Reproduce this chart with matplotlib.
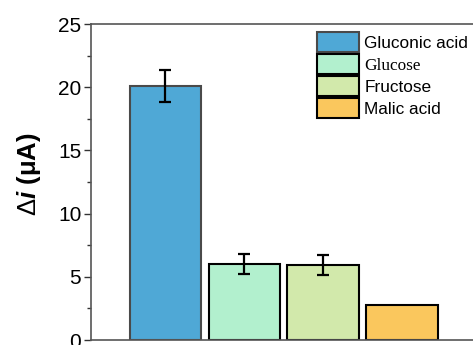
import matplotlib
matplotlib.use("Agg")
import matplotlib.pyplot as plt
from matplotlib.ticker import MultipleLocator

plt.rcParams['font.family'] = ['Liberation Sans', 'DejaVu Sans']
plt.rcParams['mathtext.fontset'] = 'custom'
plt.rcParams['mathtext.rm'] = 'Liberation Sans'
plt.rcParams['mathtext.it'] = 'Liberation Sans:italic:bold'
plt.rcParams['mathtext.bf'] = 'Liberation Sans:bold'

# Current response per analyte
analytes = ["Gluconic acid", "Glucose", "Fructose", "Malic acid"]
delta_i = [20.1, 6.0, 5.95, 2.75]
errors = [1.3, 0.8, 0.8, 0.0]
colors = ["#4FA8D6", "#B2F0CE", "#D2E9AB", "#FAC75D"]
edges = ["#4A4A4A", "#000000", "#000000", "#000000"]

W, H = 473, 345
fig = plt.figure(figsize=(W / 100, H / 100), dpi=100)
left, bottom, top = 91 / W, 5 / H, 24 / H
ax = fig.add_axes([left, bottom, 1.08 - left, 1 - top - bottom])

x = list(range(len(analytes)))
bars = ax.bar(x, delta_i, width=0.91, color=colors, edgecolor=edges,
              linewidth=1.5, zorder=2)
for xi, v, e in zip(x, delta_i, errors):
    if e > 0:
        ax.errorbar(xi, v, yerr=e, fmt="none", ecolor="black", elinewidth=1.6,
                    capsize=4, capthick=1.6, zorder=3)

ax.set_xlim(-0.943, 4.373)
ax.set_ylim(0, 25)
ax.yaxis.set_major_locator(MultipleLocator(5))
ax.yaxis.set_minor_locator(MultipleLocator(2.5))
ax.tick_params(axis="y", which="major", direction="out", length=5, width=1,
               labelsize=15, colors="#333333", labelcolor="black", pad=2)
ax.tick_params(axis="y", which="minor", direction="out", length=3, width=1,
               colors="#333333")
ax.tick_params(axis="x", which="both", bottom=False, labelbottom=False)
for s in ["left", "top", "bottom", "right"]:
    ax.spines[s].set_color("#555555")
    ax.spines[s].set_linewidth(1.2)

ax.set_ylabel(r"$\Delta\mathit{i}$ (μA)", fontsize=18.5, fontweight="bold")
ax.yaxis.set_label_coords(-0.114, 0.524)

leg = ax.legend(bars, analytes, loc="upper left",
                bbox_to_anchor=(317 / W, 1 - 32 / H),
                bbox_transform=fig.transFigure, frameon=False, fontsize=12.4,
                handlelength=2.44, handleheight=1.41, labelspacing=0.116,
                handletextpad=0.3, borderpad=0, borderaxespad=0)
leg.get_texts()[1].set_fontfamily(["Liberation Serif", "DejaVu Serif"])

fig.savefig("out.png", dpi=100)
